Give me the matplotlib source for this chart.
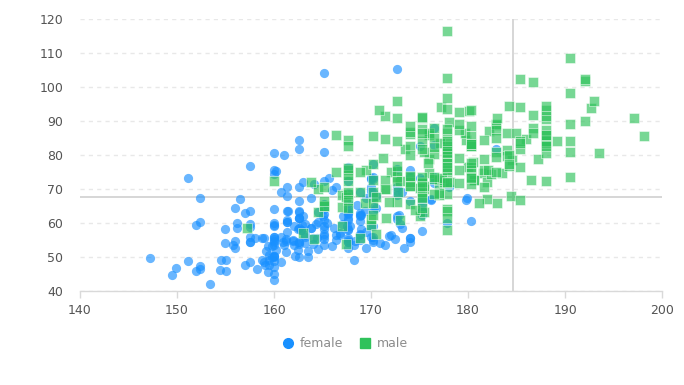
import numpy as np
import matplotlib.pyplot as plt

# height (cm), weight (kg)
female = [
    [161.2, 51.6], [167.5, 59.0], [159.5, 49.2], [157.0, 63.0], [155.8, 53.6], [170.0, 59.0], [159.1, 47.6], [166.0, 69.8],
    [176.2, 66.8], [160.2, 75.2], [172.5, 55.2], [170.9, 54.2], [172.9, 62.5], [153.4, 42.0], [160.0, 50.0], [147.2, 49.8],
    [168.2, 49.2], [175.0, 73.2], [157.0, 47.8], [167.6, 68.8], [159.5, 50.6], [175.0, 82.5], [166.8, 57.2], [176.5, 87.8],
    [170.2, 72.8], [174.0, 54.5], [173.0, 59.8], [179.9, 67.3], [170.5, 67.8], [160.0, 47.0], [154.4, 46.2], [162.0, 55.0],
    [176.5, 83.0], [160.0, 54.4], [152.0, 45.8], [162.1, 53.6], [170.0, 73.2], [160.2, 52.1], [161.3, 67.9], [166.4, 56.6],
    [168.9, 62.3], [163.8, 58.5], [167.6, 54.5], [160.0, 50.2], [161.3, 60.3], [167.6, 58.3], [165.1, 56.2], [160.0, 50.2],
    [170.0, 72.9], [157.5, 59.8], [167.6, 61.0], [160.7, 69.1], [163.2, 55.9], [152.4, 46.5], [157.5, 54.3], [168.3, 54.8],
    [180.3, 60.7], [165.5, 60.0], [165.0, 62.0], [164.5, 60.3], [156.0, 52.7], [160.0, 74.3], [163.0, 62.0], [165.7, 73.1],
    [161.0, 80.0], [162.0, 54.7], [166.0, 53.2], [174.0, 75.7], [172.7, 61.1], [167.6, 55.7], [151.1, 48.7], [164.5, 52.3],
    [163.5, 50.0], [152.0, 59.3], [169.0, 62.5], [164.0, 55.7], [161.2, 54.8], [155.0, 45.9], [170.0, 70.6], [176.2, 67.2],
    [170.0, 69.4], [162.5, 58.2], [170.3, 64.8], [164.1, 71.6], [169.5, 52.8], [163.2, 59.8], [154.5, 49.0], [159.8, 50.0],
    [173.2, 69.2], [170.0, 55.9], [161.4, 63.4], [169.0, 58.2], [166.2, 58.6], [159.4, 45.7], [162.5, 52.2], [159.0, 48.6],
    [162.8, 57.8], [159.0, 55.6], [179.8, 66.8], [162.9, 59.4], [161.0, 53.6], [151.1, 73.2], [168.2, 53.4], [168.9, 69.0],
    [173.2, 58.4], [171.8, 56.2], [178.0, 70.6], [164.3, 59.8], [163.0, 72.0], [168.5, 65.2], [166.8, 56.6], [172.7, 105.2],
    [163.5, 51.8], [169.4, 63.4], [167.8, 59.0], [159.5, 47.6], [167.6, 63.0], [161.2, 55.2], [160.0, 45.0], [163.2, 54.0],
    [162.2, 50.2], [161.3, 60.2], [149.5, 44.8], [157.5, 58.8], [163.2, 56.4], [172.7, 62.0], [155.0, 49.2], [156.5, 67.2],
    [164.0, 53.8], [160.9, 54.4], [162.8, 58.0], [167.0, 59.8], [160.0, 54.8], [160.0, 43.2], [168.9, 60.5], [158.2, 46.4],
    [156.0, 64.4], [160.0, 48.8], [167.1, 62.2], [158.0, 55.5], [167.6, 57.8], [156.0, 54.6], [162.1, 59.2], [173.4, 52.7],
    [159.8, 53.2], [170.5, 64.5], [159.2, 51.8], [157.5, 56.0], [161.3, 63.6], [162.6, 63.2], [160.0, 59.5], [168.9, 56.8],
    [165.1, 64.1], [162.6, 50.0], [165.1, 72.3], [166.4, 55.0], [160.0, 55.9], [152.4, 60.4], [170.2, 69.1], [162.6, 84.5],
    [170.2, 55.9], [158.8, 55.5], [172.7, 69.5], [167.6, 76.4], [162.6, 61.4], [167.6, 65.9], [156.2, 58.6], [175.2, 66.8],
    [172.1, 56.6], [162.6, 58.6], [160.0, 55.9], [165.1, 59.1], [182.9, 81.8], [166.4, 70.7], [165.1, 56.8], [177.8, 60.0],
    [165.1, 58.2], [175.3, 72.7], [154.9, 54.1], [158.8, 49.1], [172.7, 75.9], [168.9, 55.0], [161.3, 57.3], [167.6, 55.0],
    [165.1, 65.5], [175.3, 65.5], [157.5, 48.6], [163.8, 58.6], [167.6, 63.6], [165.1, 55.2], [165.1, 62.7], [168.9, 56.6],
    [162.6, 53.9], [164.5, 63.2], [176.5, 73.6], [168.9, 62.0], [175.3, 63.6], [159.4, 53.2], [160.0, 53.4], [170.2, 55.0],
    [162.6, 70.5], [167.6, 54.5], [162.6, 54.5], [160.7, 55.9], [160.0, 59.0], [157.5, 63.6], [162.6, 54.5], [152.4, 47.3],
    [170.2, 67.7], [165.1, 80.9], [172.7, 70.5], [165.1, 60.9], [170.2, 63.6], [170.2, 54.5], [170.2, 59.1], [161.3, 70.5],
    [167.6, 52.7], [167.6, 62.7], [165.1, 86.3], [162.6, 66.4], [152.4, 67.3], [168.9, 63.0], [170.2, 73.6], [175.2, 62.3],
    [175.2, 57.7], [160.0, 55.4], [165.1, 104.1], [174.0, 55.5], [170.2, 77.3], [160.0, 80.5], [167.6, 64.5], [167.6, 72.3],
    [167.6, 61.4], [154.9, 58.2], [162.6, 81.8], [175.3, 63.6], [171.4, 53.4], [157.5, 54.5], [165.1, 53.6], [160.0, 60.0],
    [174.0, 73.6], [162.6, 61.4], [174.0, 55.5], [162.6, 63.6], [161.3, 60.9], [156.2, 60.0], [149.9, 46.8], [169.5, 57.3],
    [160.0, 64.1], [175.3, 63.6], [169.5, 67.3], [160.0, 75.5], [172.7, 68.2], [162.6, 61.4], [157.5, 76.8], [176.5, 71.8],
    [164.4, 55.5], [160.7, 48.6], [174.0, 66.4], [163.8, 67.3],
]

male = [
    [174.0, 65.6], [175.3, 71.8], [193.5, 80.7], [186.5, 72.6], [187.2, 78.8], [181.5, 74.8], [184.0, 86.4], [184.5, 78.4],
    [175.0, 62.0], [184.0, 81.6], [180.0, 76.6], [177.8, 83.6], [192.0, 90.0], [176.0, 74.6], [174.0, 71.0], [184.0, 79.6],
    [192.7, 93.8], [171.5, 70.0], [173.0, 72.4], [176.0, 85.9], [176.0, 78.8], [180.5, 77.8], [172.7, 66.2], [176.0, 86.4],
    [173.5, 81.8], [178.0, 89.6], [180.3, 82.8], [180.3, 76.4], [164.5, 63.2], [173.0, 60.9], [183.5, 74.8], [175.5, 70.0],
    [188.0, 72.4], [189.2, 84.1], [172.8, 69.1], [170.0, 59.5], [182.0, 67.2], [170.0, 61.3], [177.8, 68.6], [184.2, 80.1],
    [186.7, 87.8], [171.4, 84.7], [172.7, 73.4], [175.3, 72.1], [180.3, 82.6], [182.9, 88.7], [188.0, 84.1], [177.2, 94.1],
    [172.1, 74.9], [167.0, 59.1], [169.5, 75.6], [174.0, 86.2], [172.7, 75.3], [182.2, 87.1], [164.1, 55.2], [163.0, 57.0],
    [171.5, 61.4], [184.2, 76.8], [174.0, 86.8], [174.0, 72.2], [177.0, 71.6], [186.0, 84.8], [167.0, 68.2], [171.8, 66.1],
    [182.0, 72.0], [167.0, 64.6], [177.8, 74.8], [164.5, 70.0], [192.0, 101.6], [175.5, 63.2], [171.2, 79.1], [181.6, 78.9],
    [167.4, 67.7], [181.1, 66.0], [177.0, 68.2], [174.5, 63.9], [177.5, 72.0], [170.5, 56.8], [182.4, 74.5], [197.1, 90.9],
    [180.1, 93.0], [175.5, 80.9], [180.6, 72.7], [184.4, 68.0], [175.5, 70.9], [180.6, 72.5], [177.0, 72.5], [177.1, 83.4],
    [181.6, 75.5], [176.5, 73.0], [175.0, 70.2], [174.0, 73.4], [165.1, 70.5], [177.0, 68.9], [192.0, 102.3], [176.5, 68.4],
    [169.4, 65.9], [182.1, 75.7], [179.8, 84.5], [175.3, 87.7], [184.9, 86.4], [177.3, 73.2], [167.4, 53.9], [178.1, 72.0],
    [168.9, 55.5], [157.2, 58.4], [180.3, 83.2], [170.2, 72.7], [177.8, 64.1], [172.7, 72.3], [165.1, 65.0], [186.7, 86.4],
    [165.1, 65.0], [174.0, 88.6], [175.3, 84.1], [185.4, 66.8], [177.8, 75.5], [180.3, 93.2], [180.3, 82.7], [177.8, 58.0],
    [177.8, 79.5], [177.8, 78.6], [177.8, 71.8], [177.8, 116.4], [163.8, 72.2], [188.0, 83.6], [198.1, 85.5], [175.3, 90.9],
    [166.4, 85.9], [190.5, 89.1], [166.4, 75.0], [177.8, 77.7], [179.7, 86.4], [172.7, 90.9], [190.5, 73.6], [185.4, 76.4],
    [168.9, 69.1], [167.6, 84.5], [175.3, 64.5], [170.2, 69.1], [190.5, 108.6], [177.8, 86.4], [190.5, 80.9], [177.8, 87.7],
    [184.2, 94.5], [176.5, 80.2], [177.8, 72.0], [180.3, 71.4], [171.4, 72.7], [172.7, 84.1], [172.7, 76.8], [177.8, 63.6],
    [177.8, 80.9], [182.9, 80.9], [170.2, 85.5], [167.6, 68.6], [175.3, 67.7], [165.1, 66.4], [185.4, 102.3], [181.6, 70.5],
    [172.7, 95.9], [190.5, 84.1], [179.1, 87.3], [175.3, 71.8], [170.2, 65.9], [193.0, 95.9], [171.4, 91.4], [177.8, 81.8],
    [177.8, 96.8], [167.6, 69.1], [167.6, 82.7], [180.3, 75.5], [182.9, 79.5], [176.5, 73.6], [186.7, 91.8], [188.0, 84.1],
    [188.0, 85.9], [177.8, 81.8], [174.0, 82.5], [177.8, 80.5], [171.4, 70.0], [185.4, 81.8], [185.4, 84.1], [188.0, 90.5],
    [188.0, 91.4], [182.9, 89.1], [176.5, 85.0], [175.3, 69.1], [175.3, 73.6], [188.0, 80.5], [188.0, 82.7], [175.3, 86.4],
    [170.5, 67.7], [179.1, 92.7], [177.8, 93.6], [175.3, 70.9], [182.9, 75.0], [170.8, 93.2], [188.0, 93.2], [180.3, 77.7],
    [177.8, 61.4], [185.4, 94.1], [168.9, 75.0], [185.4, 83.6], [180.3, 85.5], [174.0, 73.9], [167.6, 66.8], [182.9, 87.3],
    [160.0, 72.3], [180.3, 88.6], [167.6, 75.5], [186.7, 101.4], [175.3, 91.1], [175.3, 67.3], [175.9, 77.7], [175.3, 81.8],
    [179.1, 75.5], [181.6, 84.5], [177.8, 76.6], [182.9, 85.0], [177.8, 102.5], [184.2, 77.3], [179.1, 71.8], [176.5, 87.9],
    [188.0, 94.3], [174.0, 70.9], [167.6, 64.5], [170.2, 77.3], [167.6, 72.3], [188.0, 87.3], [174.0, 80.0], [176.5, 82.3],
    [180.3, 73.6], [167.6, 74.1], [188.0, 85.9], [180.3, 73.2], [167.6, 76.3], [183.0, 65.9], [183.0, 90.9], [179.1, 89.1],
    [170.2, 62.3], [177.8, 82.7], [179.1, 79.1], [190.5, 98.2], [177.8, 84.1], [180.3, 83.2], [180.3, 83.2],
]

# crosshair position (mouse hover)
cross_x = 184.6
cross_y = 67.7

x_ticks = [140, 150, 160, 170, 180, 190, 200]
y_ticks = [40, 50, 60, 70, 80, 90, 100, 110, 120]

f = np.array(female)
m = np.array(male)

fig = plt.figure(figsize=(6.84, 3.85), dpi=100)
ax = fig.add_axes([0.117, 0.244, 0.851, 0.707])

ax.set_axisbelow(True)
ax.yaxis.grid(True, color='#e8e8e8', linestyle=(0, (3, 3)), linewidth=1)

ax.axvline(cross_x, color='#d0d0d0', linewidth=1.2, zorder=1)
ax.axhline(cross_y, color='#d0d0d0', linewidth=1.2, zorder=1)

ax.scatter(f[:, 0], f[:, 1], s=44, marker='o', color='#1890FF', alpha=0.65,
           linewidths=0, zorder=2, label='female')
ax.scatter(m[:, 0], m[:, 1], s=48, marker='s', color='#2FC25B', alpha=0.65,
           edgecolors='white', linewidths=0.5, zorder=3, label='male')

ax.set_xlim(140, 200)
ax.set_ylim(40, 120)
ax.set_xticks(x_ticks)
ax.set_yticks(y_ticks)

for side in ['top', 'right', 'left']:
    ax.spines[side].set_visible(False)
ax.spines['bottom'].set_color('#d9d9d9')
ax.spines['bottom'].set_linewidth(1)

ax.tick_params(axis='x', colors='#d9d9d9', length=5, width=1, labelcolor='#545454', labelsize=9, pad=4)
ax.tick_params(axis='y', length=0, labelcolor='#545454', labelsize=9, pad=12)

h1 = plt.Line2D([], [], marker='o', linestyle='', color='#1890FF', markersize=7)
h2 = plt.Line2D([], [], marker='s', linestyle='', color='#2FC25B', markersize=6.5)
fig.legend([h1, h2], ['female', 'male'], loc='center', bbox_to_anchor=(0.503, 0.108),
           ncol=2, frameon=False, fontsize=9, labelcolor='#8c8c8c',
           handletextpad=0.3, columnspacing=1.2, handlelength=1.2)

fig.savefig('out.png', dpi=100)
